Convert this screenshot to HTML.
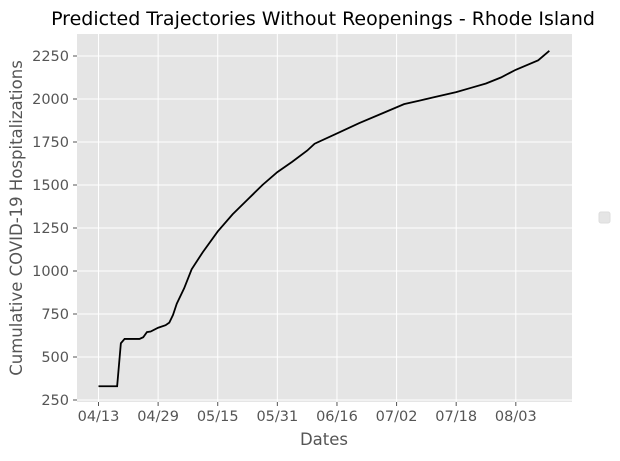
<!DOCTYPE html>
<html><head><meta charset="utf-8"><style>
body{margin:0;background:#fff;font-family:"DejaVu Sans","Liberation Sans",sans-serif;}
svg text{font-family:"DejaVu Sans","Liberation Sans",sans-serif;}
</style></head><body>
<svg id="c" width="620" height="457" xmlns="http://www.w3.org/2000/svg"></svg>
<script>
const days=[0,5,6,7,11,12,13,14,16,18,19,20,21,23,25,28,32,36,40,44,48,52,56,58,64,70,76,82,86,90,96,100,104,108,112,118,121];
const values=[330,330,580,605,605,615,645,648,670,685,700,745,810,900,1010,1110,1230,1330,1415,1500,1575,1635,1700,1740,1800,1860,1915,1970,1990,2010,2040,2065,2090,2125,2170,2225,2280];
const xTickDays=[0,16,32,48,64,80,96,112];
const xTickLabels=["04/13","04/29","05/15","05/31","06/16","07/02","07/18","08/03"];
const yTicks=[250,500,750,1000,1250,1500,1750,2000,2250];
const L=77,R=572,T=34,B=402;
const x=d=>98.5+d*3.726;
const y=v=>400-(v-250)*43/250;
const s=document.getElementById('c');const NS="http://www.w3.org/2000/svg";
function mk(t,a,p){const e=document.createElementNS(NS,t);for(const k in a)e.setAttribute(k,a[k]);(p||s).appendChild(e);return e;}
const bg=mk('rect',{x:L,y:T,width:R-L,height:B-T,fill:'#e5e5e5'});


xTickDays.forEach((d,i)=>{const X=x(d);
const g=mk('line',{x1:X,x2:X,y1:T,y2:B,stroke:'#fff','stroke-width':1});


mk('line',{x1:X,x2:X,y1:B,y2:B+4,stroke:'#555'});
const t=mk('text',{x:X,y:B+19,'text-anchor':'middle','font-size':14.5,fill:'#555'});t.textContent=xTickLabels[i];

});
yTicks.forEach(v=>{const Y=y(v);
const g=mk('line',{x1:L,x2:R,y1:Y,y2:Y,stroke:'#fff','stroke-width':1});


mk('line',{x1:L-4,x2:L,y1:Y,y2:Y,stroke:'#555'});
const t=mk('text',{x:L-8,y:Y+5,'text-anchor':'end','font-size':14.5,fill:'#555'});t.textContent=v;

});
const p=mk('polyline',{points:days.map((d,i)=>x(d)+','+y(values[i])).join(' '),fill:'none',stroke:'#000','stroke-width':1.8});


const tt=mk('text',{x:323,y:25,'text-anchor':'middle','font-size':19,fill:'#000'});tt.textContent='Predicted Trajectories Without Reopenings - Rhode Island';


const xl=mk('text',{x:324,y:445,'text-anchor':'middle','font-size':16.5,fill:'#555'});xl.textContent='Dates';


const yl=mk('text',{x:0,y:0,'text-anchor':'middle','font-size':16.5,fill:'#555',transform:'translate(22,218) rotate(-90)'});yl.textContent='Cumulative COVID-19 Hospitalizations';


const lg=mk('rect',{x:599,y:212,width:11,height:11,rx:2,fill:'#e5e5e5',stroke:'#ddd'});


</script>
</body></html>
